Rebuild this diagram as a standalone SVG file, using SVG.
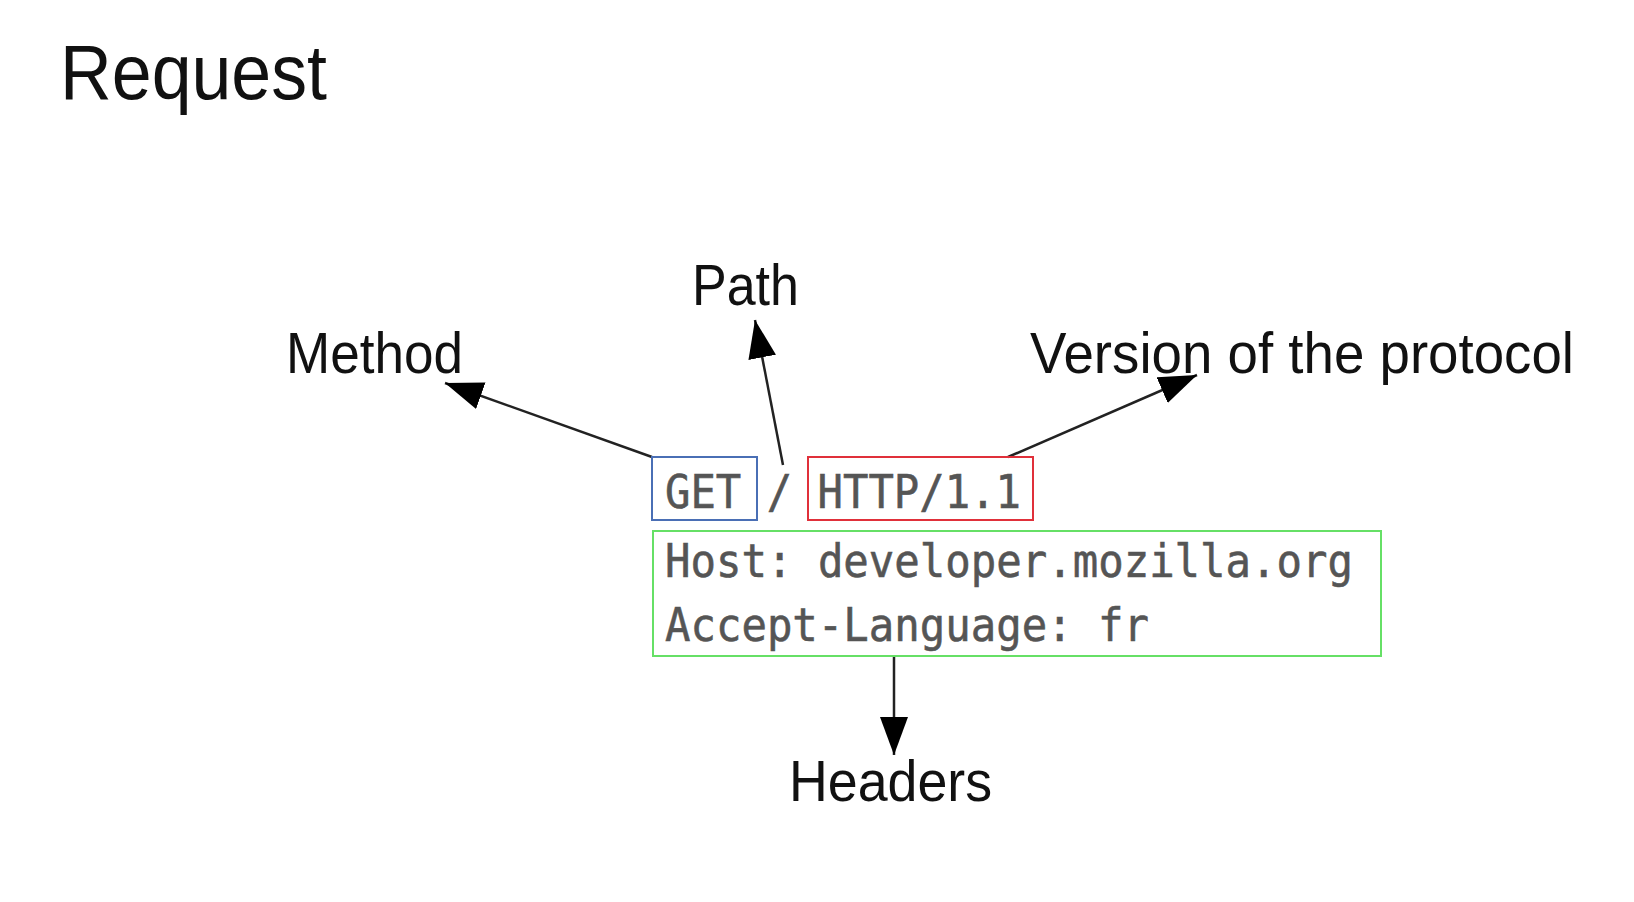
<svg xmlns="http://www.w3.org/2000/svg" width="1634" height="902" viewBox="0 0 1634 902">
<style>
.lbl{font-family:"Liberation Sans",Arial,sans-serif;fill:#111}
.mono{font-family:"DejaVu Sans Mono","Liberation Mono",monospace;font-size:47px;fill:#555;stroke:#555;stroke-width:0.6}
.conn{stroke:#222;stroke-width:2.5;fill:none}
</style>
<defs>
<marker id="ah" markerUnits="userSpaceOnUse" markerWidth="40" markerHeight="30" refX="38" refY="14" orient="auto">
<path d="M0,0 L38,14 L0,28 z" fill="#000"/>
</marker>
</defs>
<rect width="1634" height="902" fill="#fff"/>
<g id="title"><text class="lbl" x="60" y="99" font-size="77" textLength="267" lengthAdjust="spacingAndGlyphs">Request</text></g>
<g id="connectors">
<line class="conn" x1="652" y1="457" x2="445" y2="383" marker-end="url(#ah)"/>
<line class="conn" x1="783" y1="465" x2="755" y2="320" marker-end="url(#ah)"/>
<line class="conn" x1="1008" y1="457" x2="1197" y2="375" marker-end="url(#ah)"/>
<line class="conn" x1="894" y1="656" x2="894" y2="755" marker-end="url(#ah)"/>
</g>
<g id="request-line">
<rect x="652" y="457" width="105" height="63" fill="none" stroke="#4a6fb5" stroke-width="2"/>
<rect x="808" y="457" width="225" height="63" fill="none" stroke="#e0303a" stroke-width="2"/>
<text class="mono" x="665" y="508" textLength="356" lengthAdjust="spacingAndGlyphs">GET / HTTP/1.1</text>
</g>
<g id="headers-block">
<rect x="653" y="531" width="728" height="125" fill="none" stroke="#66e066" stroke-width="2"/>
<text class="mono" x="665" y="577" textLength="688" lengthAdjust="spacingAndGlyphs">Host: developer.mozilla.org</text>
<text class="mono" x="665" y="641" textLength="484" lengthAdjust="spacingAndGlyphs">Accept-Language: fr</text>
</g>
<g id="method"><text class="lbl" x="286" y="373" font-size="57" textLength="177" lengthAdjust="spacingAndGlyphs">Method</text></g>
<g id="path"><text class="lbl" x="692" y="305" font-size="57" textLength="107" lengthAdjust="spacingAndGlyphs">Path</text></g>
<g id="version"><text class="lbl" x="1030" y="373" font-size="57" textLength="544" lengthAdjust="spacingAndGlyphs">Version of the protocol</text></g>
<g id="headers"><text class="lbl" x="789" y="801" font-size="57" textLength="203" lengthAdjust="spacingAndGlyphs">Headers</text></g>
</svg>
